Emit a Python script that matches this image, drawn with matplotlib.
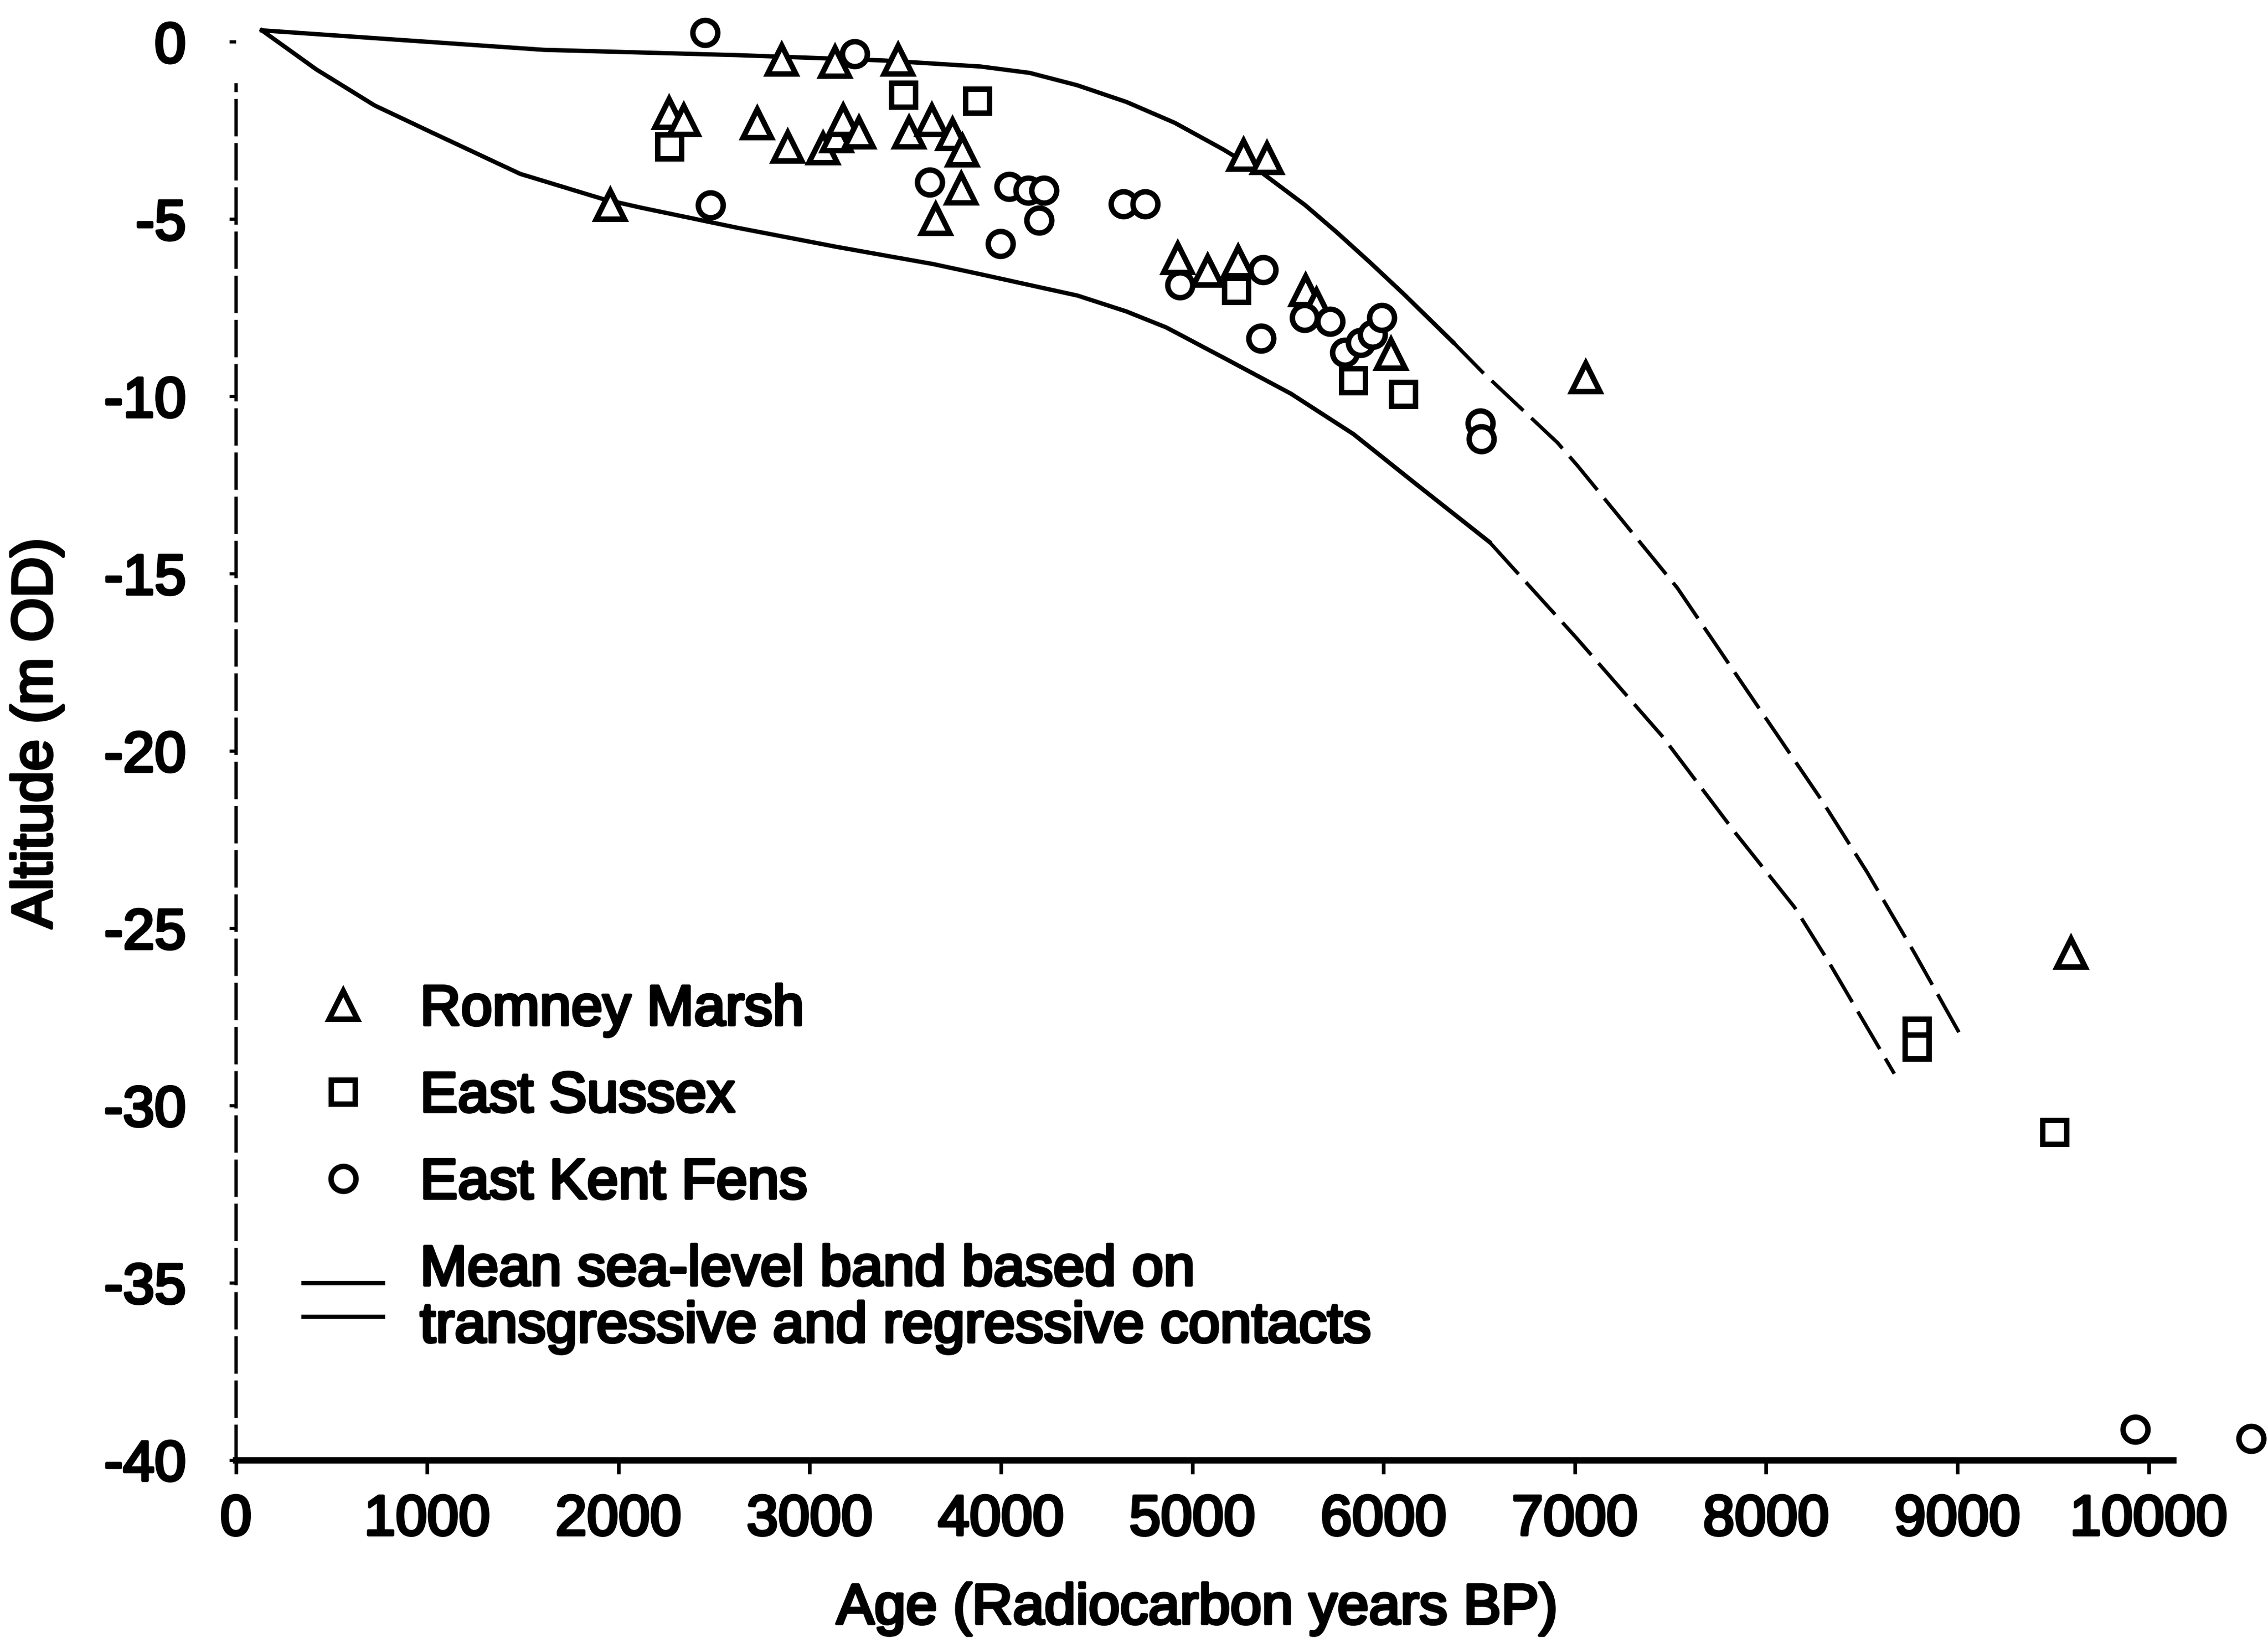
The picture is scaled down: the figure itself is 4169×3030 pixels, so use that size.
import matplotlib.pyplot as plt
import matplotlib.patheffects as pe
from matplotlib.lines import Line2D
from matplotlib.legend_handler import HandlerBase
import numpy as np

plt.rcParams['font.family'] = ['Liberation Sans', 'DejaVu Sans']
plt.rcParams['axes.unicode_minus'] = False

# ---------------------------------
# DATA
# ---------------------------------
romney_age = [1958, 2265, 2341, 2727, 2853, 2884, 3070, 3133, 3141, 3175,
              3258, 3462, 3519, 3640, 3658, 3747, 3793, 3798, 4925, 5080,
              5240, 5268, 5390, 5594, 5650, 6038, 7056, 9594]
romney_alt = [-4.6, -2.0, -2.2, -2.3, -0.5, -2.96, -3.0, -0.56, -2.66, -2.2,
              -2.55, -0.5, -2.55, -2.2, -5.0, -2.6, -4.13, -3.07, -6.1, -6.45,
              -6.2, -3.19, -3.28, -7.0, -7.4, -8.8, -9.46, -25.7]

sussex_age = [2268, 3492, 3878, 5232, 5843, 6104, 8790, 8790, 9509]
sussex_alt = [-2.96, -1.5, -1.67, -7.0, -9.55, -9.94, -27.9, -28.35, -30.75]

kent_age = [2453, 2480, 3235, 3628, 3996, 4044, 4142, 4199, 4225, 4641,
            4755, 4935, 5359, 5370, 5586, 5722, 5797, 5881, 5941, 5990,
            6506, 6510, 9929, 10536]
kent_alt = [0.26, -4.6, -0.33, -3.95, -5.68, -4.07, -4.18, -5.03, -4.18, -4.56,
            -4.56, -6.85, -8.35, -6.42, -7.78, -7.88, -8.75, -8.48, -8.25, -7.78,
            -10.75, -11.2, -39.13, -39.4]

# upper and lower limits of the mean sea-level band
upper_age = np.array([136, 1610, 2623, 3386, 3893, 4150, 4399, 4656, 4909, 5162,
                      5367, 5590, 5752, 5926, 6104, 6364, 6515, 6712, 6909, 7014,
                      7536, 7838, 8292, 8526, 8776, 9015])
upper_alt = np.array([0.33, -0.22, -0.37, -0.52, -0.69, -0.87, -1.22, -1.69, -2.28, -3.03,
                      -3.7, -4.6, -5.35, -6.2, -7.1, -8.47, -9.3, -10.3, -11.3, -11.95,
                      -15.4, -17.8, -21.4, -23.4, -25.7, -28.0])

lower_age = np.array([136, 420, 726, 1028, 1487, 1920, 2116, 2623, 3133,
                      3643, 3893, 4399, 4656, 4864, 5190, 5516, 5843, 6168, 6553,
                      7007, 7460, 7838, 8148, 8322, 8670])
lower_alt = np.array([0.33, -0.77, -1.79, -2.56, -3.72, -4.43, -4.67, -5.24, -5.77,
                      -6.26, -6.55, -7.15, -7.6, -8.05, -8.98, -9.92, -11.06, -12.46, -14.1,
                      -16.8, -19.6, -22.3, -24.4, -25.9, -29.1])

x_ticks = list(range(0, 10001, 1000))
y_ticks = list(range(0, -41, -5))


class BandHandler(HandlerBase):
    # two parallel strokes for the band entry
    def create_artists(self, legend, orig_handle, xdescent, ydescent,
                       width, height, fontsize, trans):
        mid = height / 2 - ydescent
        gap = 0.3 * fontsize
        arts = []
        for off in (gap, -gap):
            ln = Line2D([-xdescent, width - xdescent], [mid + off, mid + off],
                        color='black', lw=1.9)
            ln.set_transform(trans)
            arts.append(ln)
        return arts


fig = plt.figure(figsize=(4169 / 300, 3030 / 300), dpi=300)
ax = fig.add_axes([0.104, 0.114, 0.894, 0.882])

# band curves: solid where constrained, dashed further back
ku = 15
kl = 18
band_up, = ax.plot(upper_age[:ku + 1], upper_alt[:ku + 1], color='black', lw=1.9)
ax.plot(upper_age[ku:], upper_alt[ku:], color='black', lw=1.6, ls=(0, (12, 3)))
ax.plot(lower_age[:kl + 1], lower_alt[:kl + 1], color='black', lw=1.9)
ax.plot(lower_age[kl:], lower_alt[kl:], color='black', lw=1.6, ls=(0, (12, 3)))

mk = dict(ls='none', mfc='white', mec='black', mew=2.4, clip_on=False, zorder=3)
h_tri, = ax.plot(romney_age, romney_alt, marker='^', ms=12.5, **mk)
h_sq, = ax.plot(sussex_age, sussex_alt, marker='s', ms=10.5, **mk)
h_ci, = ax.plot(kent_age, kent_alt, marker='o', ms=11, **mk)

ax.set_xlim(0, 10600)
ax.set_ylim(-40, 1)
ax.set_xticks(x_ticks)
ax.set_yticks(y_ticks)

for s in ('top', 'right'):
    ax.spines[s].set_visible(False)
ax.spines['bottom'].set_bounds(0, 10130)
ax.spines['bottom'].set_linewidth(2.8)
ax.spines['left'].set_bounds(-40, -1.2)
ax.spines['left'].set_linewidth(1.5)
ax.spines['left'].set_linestyle((0, (10, 3)))

ax.tick_params(axis='x', direction='out', length=6, width=1.6, pad=9, labelsize=25)
ax.tick_params(axis='y', direction='out', length=3, width=1.4, pad=19, labelsize=25)

ax.set_xlabel('Age (Radiocarbon years BP)', fontsize=25)
ax.set_ylabel('Altitude (m OD)', fontsize=25)
ax.xaxis.set_label_coords(0.474, -0.0845)
ax.yaxis.set_label_coords(-0.085, 0.5)

labels = ['Romney Marsh', 'East Sussex', 'East Kent Fens',
          'Mean sea-level band based on\ntransgressive and regressive contacts']
leg = ax.legend([h_tri, h_sq, h_ci, band_up], labels,
                loc='lower left', bbox_to_anchor=(0.0335, 0.073),
                frameon=False, fontsize=25, handlelength=1.4, handletextpad=0.65,
                labelspacing=0.6, borderpad=0, borderaxespad=0, numpoints=1,
                handler_map={band_up: BandHandler()})
leg.get_texts()[3].set_linespacing(1.1)

# the printed lettering is heavy; thicken the glyphs slightly
thick = [pe.withStroke(linewidth=1.3, foreground='black')]
texts = ax.get_xticklabels() + ax.get_yticklabels() + leg.get_texts()
texts += [ax.xaxis.label, ax.yaxis.label]
for t in texts:
    t.set_path_effects(thick)

fig.savefig('out.png', dpi=300)
